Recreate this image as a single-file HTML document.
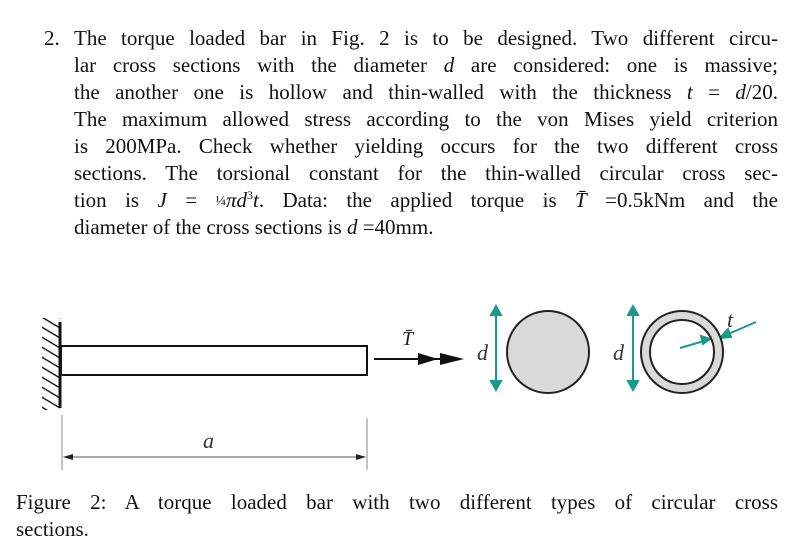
<!DOCTYPE html>
<html><head><meta charset="utf-8"><style>
body{margin:0;width:800px;height:550px;background:#fff;position:relative;overflow:hidden;font-family:"Liberation Serif",serif;color:#111}
.l{position:absolute;left:74px;width:704px;font-size:21px;line-height:27px;height:27px;white-space:nowrap;text-align:justify;text-align-last:justify}
.n{text-align-last:left}
i{font-style:italic}
.c{left:16px;width:762px}
.s{font-size:12px;position:relative;top:-8px;line-height:0}
</style></head><body>
<div class="l" style="left:44px;top:25px;width:30px;text-align-last:left">2.</div>
<div class="l" style="top:25px">The torque loaded bar in Fig. 2 is to be designed. Two different circu-</div>
<div class="l" style="top:52px">lar cross sections with the diameter <i>d</i> are considered: one is massive;</div>
<div class="l" style="top:79px">the another one is hollow and thin-walled with the thickness <i>t</i> = <i>d</i>/20.</div>
<div class="l" style="top:106px">The maximum allowed stress according to the von Mises yield criterion</div>
<div class="l" style="top:133px">is 200MPa. Check whether yielding occurs for the two different cross</div>
<div class="l" style="top:160px">sections. The torsional constant for the thin-walled circular cross sec-</div>
<div class="l" style="top:187px">tion is <i>J</i> = <span class="s" style="font-size:14px;top:-2px">¼</span><i>πd</i><span class="s">3</span><i>t</i>. Data: the applied torque is <i>T̄</i> =0.5kNm and the</div>
<div class="l n" style="top:214px">diameter of the cross sections is <i>d</i> =40mm.</div>
<div class="l c" style="top:489px">Figure 2: A torque loaded bar with two different types of circular cross</div>
<div class="l c n" style="top:516px">sections.</div>
<svg width="800" height="550" style="position:absolute;left:0;top:0">
<defs><clipPath id="h"><rect x="42" y="318" width="18" height="92"/></clipPath></defs>
<g clip-path="url(#h)" stroke="#222" stroke-width="1.5">
<path d="M30 310l30 18M30 320l30 18M30 330l30 18M30 340l30 18M30 350l30 18M30 360l30 18M30 370l30 18M30 380l30 18M30 390l30 18M30 400l30 18M30 300l30 18"/>
</g>
<line x1="60" y1="322" x2="60" y2="408" stroke="#111" stroke-width="3"/>
<rect x="61" y="346" width="306" height="29" fill="none" stroke="#111" stroke-width="2"/>
<line x1="374" y1="359" x2="440" y2="359" stroke="#111" stroke-width="2"/>
<path d="M418 353l20 6-20 6zM440 353l24 6-24 6z" fill="#111"/>
<text x="402" y="345" font-size="20" font-style="italic" fill="#222">T̄</text>
<line x1="62" y1="415" x2="62" y2="470" stroke="#888" stroke-width="1"/>
<line x1="367" y1="418" x2="367" y2="470" stroke="#888" stroke-width="1"/>
<line x1="64" y1="457" x2="365" y2="457" stroke="#555" stroke-width="1"/>
<path d="M63 457l10-3v6zM366 457l-10-3v6z" fill="#222"/>
<text x="203" y="448" font-size="22" font-style="italic" fill="#333">a</text>
<circle cx="548" cy="352" r="41" fill="#d9d9d9" stroke="#222" stroke-width="2"/>
<g stroke="#1a9a8a" stroke-width="2" fill="#1a9a8a">
<line x1="496" y1="312" x2="496" y2="386"/><path d="M496 306l-5 9h10zM496 390l-5-9h10z"/>
<line x1="633" y1="312" x2="633" y2="386"/><path d="M633 306l-5 9h10zM633 390l-5-9h10z"/>
<line x1="756" y1="322" x2="726" y2="335"/><path d="M720 338l8-9 3 8z"/>
<line x1="680" y1="348" x2="704" y2="341"/><path d="M710 339l-9-3 2 8z"/>
</g>
<text x="477" y="360" font-size="22" font-style="italic" fill="#333">d</text>
<text x="613" y="360" font-size="22" font-style="italic" fill="#333">d</text>
<text x="727" y="327" font-size="22" font-style="italic" fill="#333">t</text>
<circle cx="682" cy="352" r="37" fill="none" stroke="#d9d9d9" stroke-width="8"/>
<circle cx="682" cy="352" r="41" fill="none" stroke="#222" stroke-width="2"/>
<circle cx="682" cy="352" r="32" fill="none" stroke="#222" stroke-width="2"/>
</svg>
</body></html>
